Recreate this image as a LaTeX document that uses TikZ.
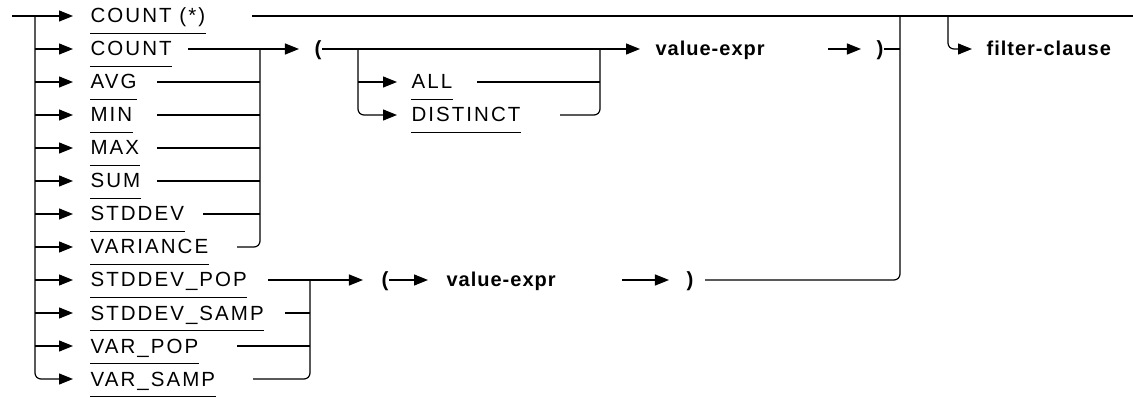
\documentclass[tikz,border=0pt]{standalone}
\usepackage{fontspec}
\setmainfont{Liberation Sans}
\newfontfamily\kwfont[LetterSpace=10]{Liberation Sans}
\newfontfamily\argfont[LetterSpace=5]{Liberation Sans}
\usetikzlibrary{arrows.meta}
\begin{document}
\begin{tikzpicture}[x=1pt,y=-1pt,line width=1.2pt,
    >={Triangle[length=14pt,width=11pt]},
    txt/.style={inner xsep=0pt,inner ysep=0pt,text height=15pt,text depth=1pt},
    kw/.style={txt,anchor=west,inner ysep=9pt,font=\kwfont\fontsize{20.5}{24}\selectfont},
    arg/.style={txt,anchor=west,font=\argfont\bfseries\fontsize{20}{24}\selectfont},
    pa/.style={txt,font=\bfseries\fontsize{20.5}{24}\selectfont}]
  \useasboundingbox (0,0) rectangle (1133,398);
  % keywords
  \foreach \name/\txt/\xs [count=\i from 0] in {cstar/{COUNT (*)}/252,
      count/COUNT/188, avg/AVG/157, min/MIN/157, max/MAX/157, sum/SUM/157,
      stddev/STDDEV/203, variance/VARIANCE/237, stdpop/STDDEV\_POP/268,
      stdsamp/STDDEV\_SAMP/285, varpop/VAR\_POP/237, varsamp/VAR\_SAMP/253}
  {
    \node[kw] (\name) at (90,{16+33*\i}) {\txt};
    \coordinate (\name-o) at (\xs,{16+33*\i});
    \draw[line width=1pt] (\name.south west) -- (\name.south east);
  }
  \coordinate (start) at (12,16);
  \coordinate (t0) at (35,16);
  \coordinate (j1) at (260,49);
  \coordinate (b1) at (358,49);
  \coordinate (b2) at (600,49);
  \coordinate (j2) at (310,280);
  \coordinate (j3) at (900,16);
  \coordinate (f1) at (948,16);
  \coordinate (exit) at (1133,16);
  \node[pa] (lpa) at (318,49) {(};
  \node[arg] (vea) at (655,49) {value-expr};
  \coordinate (vea-o) at (828,49);
  \node[pa] (rpa) at (880,49) {)};
  \node[kw] (all) at (411,82) {ALL};
  \coordinate (all-o) at (477,82);
  \node[kw] (distinct) at (411,115) {DISTINCT};
  \coordinate (distinct-o) at (560,115);
  \foreach \name in {all,distinct}
    \draw[line width=1pt] (\name.south west) -- (\name.south east);
  \node[pa] (lpb) at (385,280) {(};
  \node[arg] (veb) at (446,280) {value-expr};
  \coordinate (veb-o) at (622,280);
  \node[pa] (rpb) at (690,280) {)};
  \coordinate (rpb-o) at (705,280);
  \node[arg] (filter) at (986,49) {filter-clause};
  % trunk
  \draw[->,shorten >=17pt] (start) -- (cstar.west);
  \foreach \name in {count,avg,min,max,sum,stddev,variance,stdpop,stdsamp,varpop}
    \draw[->,shorten >=17pt] (t0 |- \name.west) -- (\name.west);
  \draw[->,shorten >=17pt,rounded corners=6pt] (t0) |- (varsamp.west);
  % first group
  \draw[->,shorten >=15pt] (count-o) -- (lpa.west);
  \foreach \name in {avg,min,max,sum,stddev}
    \draw (\name-o) -- (\name-o -| j1);
  \draw[rounded corners=6pt] (variance-o) -| (j1);
  \draw[->,shorten >=15pt] (lpa.east) -- (vea.west);
  \draw[->,shorten >=14pt] (b1 |- all.west) -- (all.west);
  \draw[->,shorten >=14pt,rounded corners=6pt] (b1) |- (distinct.west);
  \draw (all-o) -- (all-o -| b2);
  \draw[rounded corners=6pt] (distinct-o) -| (b2);
  \draw[->,shorten >=15pt] (vea-o) -- (rpa.west);
  \draw (rpa.east) -- (rpa.east -| j3);
  % exit and filter
  \draw (cstar-o) -- (exit);
  \draw[rounded corners=6pt] (j3) |- (rpb-o);
  \draw[->,shorten >=14pt,rounded corners=6pt] (f1) |- (filter.west);
  % second group
  \draw[->,shorten >=18pt] (stdpop-o) -- (lpb.west);
  \foreach \name in {stdsamp,varpop}
    \draw (\name-o) -- (\name-o -| j2);
  \draw[rounded corners=6pt] (varsamp-o) -| (j2);
  \draw[->,shorten >=18pt] (lpb.east) -- (veb.west);
  \draw[->,shorten >=17pt] (veb-o) -- (rpb.west);
\end{tikzpicture}
\end{document}
